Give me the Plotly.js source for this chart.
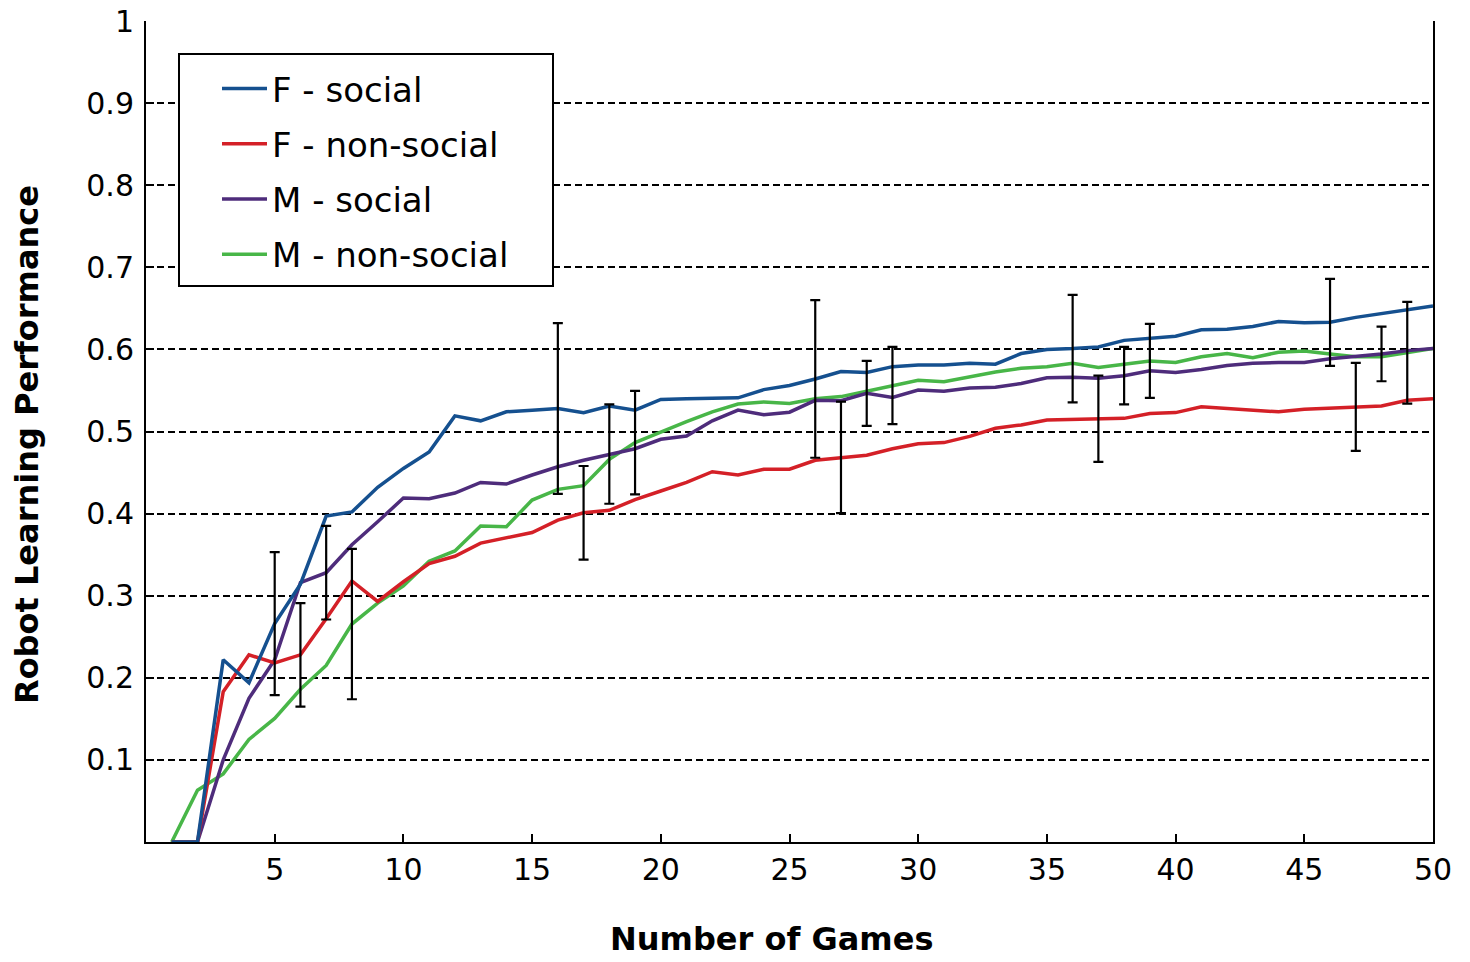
<!DOCTYPE html>
<html>
<head>
<meta charset="utf-8">
<script src="https://cdn.plot.ly/plotly-3.0.1.min.js"></script>
<style>
html,body{margin:0;padding:0;background:#fff;}
#chart{width:1470px;height:962px;}
</style>
</head>
<body>
<div id="chart"></div>
<script>
// Number of games (x)
const games = Array.from({length: 50}, (_, i) => i + 1);

// Series values
const fSocial = [0, 0, 0.222, 0.194, 0.266, 0.314, 0.397, 0.402, 0.432, 0.455,
  0.475, 0.519, 0.513, 0.524, 0.526, 0.528, 0.523, 0.531, 0.526, 0.539,
  0.540, 0.5405, 0.541, 0.551, 0.556, 0.564, 0.573, 0.572, 0.579, 0.581,
  0.581, 0.583, 0.582, 0.595, 0.600, 0.601, 0.603, 0.611, 0.613, 0.616,
  0.624, 0.6245, 0.628, 0.634, 0.6325, 0.633, 0.639, 0.644, 0.649, 0.653];

const fNonSocial = [0, 0, 0.183, 0.228, 0.218, 0.228, 0.272, 0.318, 0.293, 0.317,
  0.339, 0.348, 0.364, 0.371, 0.377, 0.392, 0.401, 0.404, 0.417, 0.4275,
  0.438, 0.451, 0.447, 0.454, 0.454, 0.465, 0.4685, 0.471, 0.479, 0.485,
  0.4865, 0.494, 0.504, 0.508, 0.514, 0.515, 0.5155, 0.516, 0.522, 0.523,
  0.530, 0.528, 0.526, 0.524, 0.527, 0.528, 0.530, 0.531, 0.538, 0.540];

const mSocial = [0, 0, 0.100, 0.175, 0.222, 0.316, 0.328, 0.362, 0.390, 0.419,
  0.418, 0.425, 0.438, 0.436, 0.447, 0.457, 0.465, 0.4725, 0.479, 0.4905,
  0.4945, 0.513, 0.526, 0.5205, 0.5235, 0.538, 0.5375, 0.5465, 0.5415, 0.5505,
  0.549, 0.553, 0.554, 0.5585, 0.5655, 0.566, 0.565, 0.568, 0.574, 0.572,
  0.5755, 0.5805, 0.583, 0.584, 0.584, 0.5885, 0.591, 0.5945, 0.5985, 0.601];

const mNonSocial = [0, 0.063, 0.083, 0.125, 0.1505, 0.186, 0.215, 0.2655, 0.291, 0.312,
  0.342, 0.3545, 0.385, 0.384, 0.4165, 0.4295, 0.434, 0.466, 0.4865, 0.4998,
  0.512, 0.524, 0.5335, 0.536, 0.534, 0.540, 0.5425, 0.549, 0.556, 0.5625,
  0.5605, 0.567, 0.5725, 0.577, 0.579, 0.583, 0.578, 0.582, 0.586, 0.584,
  0.591, 0.595, 0.590, 0.5965, 0.598, 0.5945, 0.591, 0.591, 0.596, 0.601];

// Error bars: games at which they are shown and half-widths
const fSocialErrGames = [5, 16, 26, 36, 46];
const fSocialErr = [0.087, 0.104, 0.096, 0.0655, 0.053];
const fNonSocialErrGames = [6, 17, 27, 37, 47];
const fNonSocialErr = [0.063, 0.057, 0.068, 0.0525, 0.0535];
const mSocialErrGames = [7, 18, 28, 38, 48];
const mSocialErr = [0.057, 0.0605, 0.0396, 0.035, 0.0333];
const mNonSocialErrGames = [8, 19, 29, 39, 49];
const mNonSocialErr = [0.0916, 0.063, 0.047, 0.045, 0.062];

const yTicks = [0.1, 0.2, 0.3, 0.4, 0.5, 0.6, 0.7, 0.8, 0.9, 1];
const yTickText = ['0.1', '0.2', '0.3', '0.4', '0.5', '0.6', '0.7', '0.8', '0.9', '1'];
const xTicks = [5, 10, 15, 20, 25, 30, 35, 40, 45, 50];

const xTitle = 'Number of Games';
const yTitle = 'Robot Learning Performance';

const series = [
  {name: 'F - social', y: fSocial, color: '#15508f', eg: fSocialErrGames, ev: fSocialErr, rank: 1},
  {name: 'F - non-social', y: fNonSocial, color: '#d42027', eg: fNonSocialErrGames, ev: fNonSocialErr, rank: 2},
  {name: 'M - social', y: mSocial, color: '#4e2c7b', eg: mSocialErrGames, ev: mSocialErr, rank: 3},
  {name: 'M - non-social', y: mNonSocial, color: '#48b648', eg: mNonSocialErrGames, ev: mNonSocialErr, rank: 4}
];

const traces = [];
// draw F - social last so it sits on top
[...series].reverse().forEach(s => {
  traces.push({
    type: 'scatter', mode: 'lines', name: s.name, x: games, y: s.y,
    line: {color: s.color, width: 3.5}, legendrank: s.rank, legendgroup: s.name
  });
});
series.forEach(s => {
  traces.push({
    type: 'scatter', mode: 'markers', showlegend: false, hoverinfo: 'skip',
    x: s.eg, y: s.eg.map(g => s.y[g - 1]),
    marker: {size: 1, opacity: 0},
    error_y: {type: 'data', array: s.ev, symmetric: true, visible: true, color: '#000', thickness: 2.2, width: 5}
  });
});

const W = 1470, H = 962, ML = 146, MR = 37, MT = 21, MB = 120;
const pw = W - ML - MR, ph = H - MT - MB;
const px = v => (v - ML) / pw;
const py = v => (H - MB - v) / ph;

const FONT = 'DejaVu Sans, sans-serif';

const layout = {
  width: W, height: H,
  margin: {l: ML, r: MR, t: MT, b: MB, pad: 0},
  paper_bgcolor: '#fff', plot_bgcolor: '#fff',
  font: {family: FONT, color: '#000', size: 30},
  showlegend: true,
  legend: {
    x: px(217), y: py(60), xanchor: 'left', yanchor: 'top',
    bgcolor: 'rgba(0,0,0,0)', borderwidth: 0,
    font: {family: FONT, size: 34, color: '#000'},
    traceorder: 'grouped', tracegroupgap: 8, itemwidth: 45
  },
  xaxis: {
    range: [0, 50], tickmode: 'array', tickvals: xTicks,
    ticks: 'inside', ticklen: 8, tickwidth: 2, tickcolor: '#000',
    showline: true, linecolor: '#000', linewidth: 2, mirror: false,
    showgrid: false, zeroline: false,
    tickfont: {family: FONT, size: 30, color: '#000'},
    ticklabelstandoff: 0
  },
  yaxis: {
    range: [0, 1], tickmode: 'array', tickvals: yTicks, ticktext: yTickText,
    ticks: 'inside', ticklen: 8, tickwidth: 2, tickcolor: '#000',
    showline: true, linecolor: '#000', linewidth: 2, mirror: true,
    showgrid: true, gridcolor: '#000', gridwidth: 2, griddash: '7px,4px',
    zeroline: false,
    tickfont: {family: FONT, size: 30, color: '#000'},
    ticklabelstandoff: 4
  },
  annotations: [{
    text: xTitle, xref: 'paper', yref: 'paper', x: px(771), y: py(939),
    xanchor: 'center', yanchor: 'middle', showarrow: false,
    font: {family: FONT, size: 32, color: '#000', weight: 'bold'}
  }, {
    text: yTitle, xref: 'paper', yref: 'paper', x: px(27), y: py(445),
    xanchor: 'center', yanchor: 'middle', showarrow: false, textangle: -90,
    font: {family: FONT, size: 32, color: '#000', weight: 'bold'}
  }],
  shapes: [{
    type: 'rect', xref: 'paper', yref: 'paper', layer: 'above',
    x0: px(179), x1: px(553), y0: py(286), y1: py(54),
    line: {color: '#000', width: 2}, fillcolor: '#fff'
  }]
};

Plotly.newPlot('chart', traces, layout, {displayModeBar: false, staticPlot: true});
</script>
</body>
</html>
